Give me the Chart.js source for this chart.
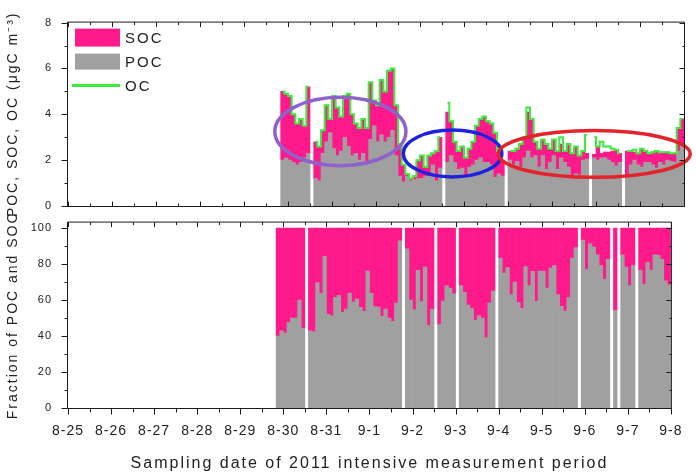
<!DOCTYPE html>
<html>
<head>
<meta charset="utf-8">
<script src="https://cdn.jsdelivr.net/npm/chart.js@4.4.1/dist/chart.umd.min.js"></script>
<style>
  html, body { margin: 0; padding: 0; background: #fff; }
  #wrap { position: relative; width: 696px; height: 473px; overflow: hidden; }
  #bot { position: absolute; left: 0; top: 200px; }
  #top { position: absolute; left: 0; top: 0; }
</style>
</head>
<body>
<div id="wrap">
  <canvas id="bot" width="696" height="273"></canvas>
  <canvas id="top" width="696" height="230"></canvas>
</div>
<script>
// tick labels of the time axis (day 0 = 8-25 00:00)
const dayLabels = ['8-25', '8-26', '8-27', '8-28', '8-29', '8-30', '8-31', '9-1', '9-2', '9-3', '9-4', '9-5', '9-6', '9-7', '9-8'];

// 2-hour samples, first one starts 8-29 20:00
const startHour = 116;
const stepHours = 2;

// µgC m-3
const poc = [2.0, 2.1, 2.0, 1.9, 1.8, 1.9, 2.1, 2.3, null, 1.2,
  1.1, 2.3, 2.8, 3.2, 2.5, 2.2, 2.4, 3.0, 2.6, 2.2,
  2.3, 2.0, 2.3, 1.9, 2.9, 3.5, 2.8, 3.1, 2.8, 3.0,
  3.3, 2.2, 1.3, 1.05, 1.3, 1.1, 1.15, 1.2, 1.2, 1.3,
  1.3, 1.8, 1.1, 1.65, null, 1.9, 2.2, 1.9, 1.6, 1.65,
  1.3, 1.7, 1.8, 2.0, 2.1, 1.9, 1.9, 1.8, 1.25, 1.4,
  1.3, null, 2.0, 1.8, 1.95, 1.7, 2.1, 2.4, 2.1, 2.2,
  1.7, 2.2, 1.6, 1.9, 2.2, 1.6, 2.1, 1.9, 1.7, 1.3,
  1.4, 1.35, 2.0, 2.05, null, 2.1, 2.0, 2.1, 2.1, 2.0,
  1.9, 1.75, 1.9, null, 1.3, 1.8, 2.0, 1.8, 1.7, 1.9,
  1.9, 1.8, 1.65, 1.9, 1.8, 2.0, 1.95, 1.9, 2.4, 2.6];
const soc = [3.0, 2.8, 2.8, 2.1, 1.8, 1.9, 1.4, 2.9, null, 1.6,
  1.5, 1.0, 1.6, 0.6, 2.3, 2.1, 1.5, 1.8, 2.3, 1.8,
  1.3, 1.4, 1.5, 1.5, 2.5, 1.1, 1.6, 2.4, 2.2, 2.9,
  2.7, 2.2, 1.4, 0.75, 0.1, 0.1, 0.15, 0.8, 1.0, 0.4,
  0.9, 0.5, 1.3, 1.35, null, 2.2, 1.5, 0.9, 0.8, 0.95,
  0.8, 0.8, 1.0, 1.5, 1.7, 2.0, 1.8, 1.8, 1.95, 1.0,
  0.7, null, 0.4, 0.6, 0.55, 1.0, 0.9, 1.7, 1.7, 0.6,
  0.8, 0.7, 1.1, 0.6, 0.7, 0.8, 0.6, 0.5, 1.0, 1.0,
  1.2, 0.85, 0.4, 0.25, null, 0.15, 0.6, 0.2, 0.25, 0.35,
  0.5, 0.7, 0.4, null, 1.1, 0.6, 0.35, 0.5, 0.8, 0.5,
  0.4, 0.55, 0.75, 0.45, 0.55, 0.35, 0.35, 0.4, 1.0, 1.2];
const oc = [5.0, 4.9, 4.8, 4.0, 3.6, 3.8, 3.5, 5.2, null, 2.8,
  2.6, 3.3, 4.4, 3.8, 4.8, 4.3, 3.9, 4.8, 4.9, 4.0,
  3.6, 3.4, 3.8, 3.4, 5.4, 4.6, 4.4, 5.5, 5.0, 5.9,
  6.0, 4.4, 2.7, 1.8, 1.4, 1.2, 1.3, 2.0, 2.2, 1.7,
  2.2, 2.3, 2.4, 3.0, null, 4.5, 3.7, 2.8, 2.4, 2.6,
  2.1, 2.5, 2.8, 3.5, 3.8, 3.9, 3.7, 3.6, 3.2, 2.4,
  2.0, null, 2.4, 2.4, 2.5, 2.7, 3.0, 4.3, 3.8, 2.8,
  2.5, 2.9, 2.7, 2.5, 2.9, 2.4, 3.0, 2.4, 2.7, 2.3,
  2.6, 2.2, 2.4, 3.1, null, 3.0, 2.6, 2.8, 2.6, 2.6,
  2.5, 2.45, 2.3, null, 2.4, 2.4, 2.45, 2.3, 2.5, 2.4,
  2.3, 2.35, 2.4, 2.35, 2.35, 2.35, 2.3, 2.3, 3.4, 3.8];

// samples with no fraction value in the lower panel
const fracGaps = [35, 50, 95, 100];

// hand-drawn ellipses on the upper panel (days, µgC m-3)
const ellipses = [
  { color: '#8F62C9', cx: 6.19, cy: 3.25, rx: 1.49, ry: 1.49 },
  { color: '#1E22DC', cx: 8.74, cy: 2.29, rx: 1.12, ry: 1.02 },
  { color: '#E5232B', cx: 11.96, cy: 2.27, rx: 2.18, ry: 1.02 }
];

const SOC_COLOR = '#FF1A8C';
const POC_COLOR = '#A0A0A0';
const OC_COLOR = '#3CEB3C';
const INK = '#222';
const FONT = '"Liberation Sans", Arial, sans-serif';

Chart.defaults.font.family = FONT;
Chart.defaults.color = INK;

const xAt = i => (startHour + stepHours * i + stepHours / 2) / 24;
const pts = arr => arr.map((v, i) => ({ x: xAt(i), y: v }));

const pocFrac = poc.map((v, i) => (v == null || fracGaps.includes(i)) ? null : 100 * v / (v + soc[i]));
const socFrac = pocFrac.map(v => v == null ? null : 100 - v);

function drawFrame(chart, o) {
  const { ctx, chartArea: a } = chart;
  const xs = chart.scales.x, ys = chart.scales.y;
  const L = a.left - 0.5, R = a.right + 0.5, T = a.top - 0.5, B = a.bottom + 0.5;
  ctx.save();
  ctx.strokeStyle = '#1a1a1a';
  ctx.lineWidth = 1;
  ctx.beginPath();
  ctx.rect(L, T, R - L, B - T);
  for (let d = 0; d <= dayLabels.length - 1; d += 0.5) {
    const px = Math.round(xs.getPixelForValue(d)) + 0.5;
    const len = d % 1 === 0 ? 5 : 3;
    ctx.moveTo(px, T); ctx.lineTo(px, T + len);
    if (o.bottomOut) { ctx.moveTo(px, B); ctx.lineTo(px, B + len + 1); }
    else { ctx.moveTo(px, B); ctx.lineTo(px, B - len); }
  }
  for (let k = 0; k * o.yMinor <= o.yTop; k++) {
    const py = Math.round(ys.getPixelForValue(k * o.yMinor)) + 0.5;
    const len = k % 2 === 0 ? 6 : 3;
    ctx.moveTo(L, py); ctx.lineTo(L - len, py);
    ctx.moveTo(R, py); ctx.lineTo(R - len + 1, py);
  }
  ctx.stroke();
  ctx.restore();
}

function drawEllipses(chart) {
  const { ctx } = chart;
  const xs = chart.scales.x, ys = chart.scales.y;
  ctx.save();
  ctx.lineWidth = 3.5;
  ellipses.forEach(e => {
    const cx = xs.getPixelForValue(e.cx), cy = ys.getPixelForValue(e.cy);
    const rx = xs.getPixelForValue(e.cx + e.rx) - cx;
    const ry = cy - ys.getPixelForValue(e.cy + e.ry);
    ctx.strokeStyle = e.color;
    ctx.beginPath();
    ctx.ellipse(cx, cy, rx, ry, 0, 0, Math.PI * 2);
    ctx.stroke();
  });
  ctx.restore();
}

function drawLegend(chart) {
  const { ctx, chartArea: a } = chart;
  const byLabel = {};
  chart.data.datasets.forEach(d => { byLabel[d.label] = d; });
  const x0 = a.left + 7;
  ctx.save();
  ctx.letterSpacing = '2px';
  ctx.font = '15px ' + FONT;
  ctx.textBaseline = 'middle';
  ctx.fillStyle = byLabel.SOC.backgroundColor;
  ctx.fillRect(x0, a.top + 6, 45, 18);
  ctx.fillStyle = byLabel.POC.backgroundColor;
  ctx.fillRect(x0, a.top + 31, 45, 16);
  ctx.strokeStyle = byLabel.OC.borderColor;
  ctx.lineWidth = 3;
  ctx.beginPath();
  ctx.moveTo(x0 - 3, a.top + 63); ctx.lineTo(x0 + 45, a.top + 63);
  ctx.stroke();
  ctx.fillStyle = INK;
  ctx.fillText('SOC', x0 + 50, a.top + 16);
  ctx.fillText('POC', x0 + 50, a.top + 40);
  ctx.fillText('OC', x0 + 50, a.top + 64);
  ctx.restore();
}

const decor = {
  id: 'decor',
  beforeDraw(chart) { chart.ctx.letterSpacing = '2px'; },
  afterDatasetsDraw(chart, args, o) {
    if (o.ellipses) drawEllipses(chart);
    chart.ctx.letterSpacing = '1px';
  },
  afterDraw(chart, args, o) {
    chart.ctx.letterSpacing = '0px';
    drawFrame(chart, o);
    if (o.legend) drawLegend(chart);
  }
};

function xScale(show) {
  return {
    type: 'linear',
    display: show,
    stacked: true,
    min: 0,
    max: dayLabels.length - 1,
    offset: false,
    grid: { display: false, drawTicks: false },
    border: { display: false },
    ticks: {
      stepSize: 1, autoSkip: false, maxRotation: 0, padding: 15, z: 1,
      font: { size: 14 }, color: INK,
      callback: v => dayLabels[v] ?? ''
    },
    title: {
      display: show,
      text: 'Sampling date of 2011 intensive measurement period',
      font: { size: 16 }, color: INK,
      padding: { top: 0, bottom: 0 }
    },
    afterFit: s => { s.height = show ? 65 : 0; }
  };
}

function yScale(max, step, title) {
  return {
    stacked: true,
    min: 0,
    max: max,
    grid: { display: false, drawTicks: false },
    border: { display: false },
    ticks: { stepSize: step, includeBounds: false, padding: 16, z: 1, font: { size: 11 }, color: INK },
    title: { display: true, text: title, font: { size: 14 }, color: INK, padding: { top: 5, bottom: 0 } },
    afterFit: s => { s.width = 68; }
  };
}

const barStyle = { barPercentage: 1, categoryPercentage: 1, borderWidth: 0 };

new Chart(document.getElementById('top'), {
  type: 'bar',
  data: {
    datasets: [
      { label: 'POC', data: pts(poc), backgroundColor: POC_COLOR, ...barStyle },
      { label: 'SOC', data: pts(soc), backgroundColor: SOC_COLOR, ...barStyle },
      { type: 'line', label: 'OC', data: pts(oc), borderColor: OC_COLOR, borderWidth: 2,
        stepped: 'middle', pointRadius: 0, spanGaps: false, order: -1 }
    ]
  },
  options: {
    responsive: false,
    animation: false,
    layout: { padding: { left: 0, right: 12, top: 10, bottom: 24 } },
    plugins: {
      legend: { display: false },
      tooltip: { enabled: false },
      decor: { legend: true, ellipses: true, bottomOut: false, yMinor: 1, yTop: 8 }
    },
    scales: {
      x: xScale(false),
      y: yScale(8, 2, 'POC, SOC, OC (\u03bcgC m\u207b\u00b3)')
    }
  },
  plugins: [decor]
});

new Chart(document.getElementById('bot'), {
  type: 'bar',
  data: {
    datasets: [
      { label: 'POC', data: pts(pocFrac), backgroundColor: POC_COLOR, ...barStyle },
      { label: 'SOC', data: pts(socFrac), backgroundColor: SOC_COLOR, ...barStyle }
    ]
  },
  options: {
    responsive: false,
    animation: false,
    layout: { padding: { left: 0, right: 12, top: 6, bottom: 0 } },
    plugins: {
      legend: { display: false },
      tooltip: { enabled: false },
      decor: { legend: false, ellipses: false, bottomOut: true, yMinor: 10, yTop: 100 }
    },
    scales: {
      x: xScale(true),
      y: yScale(103, 20, 'Fraction of POC and SOC')
    }
  },
  plugins: [decor]
});
</script>
</body>
</html>
